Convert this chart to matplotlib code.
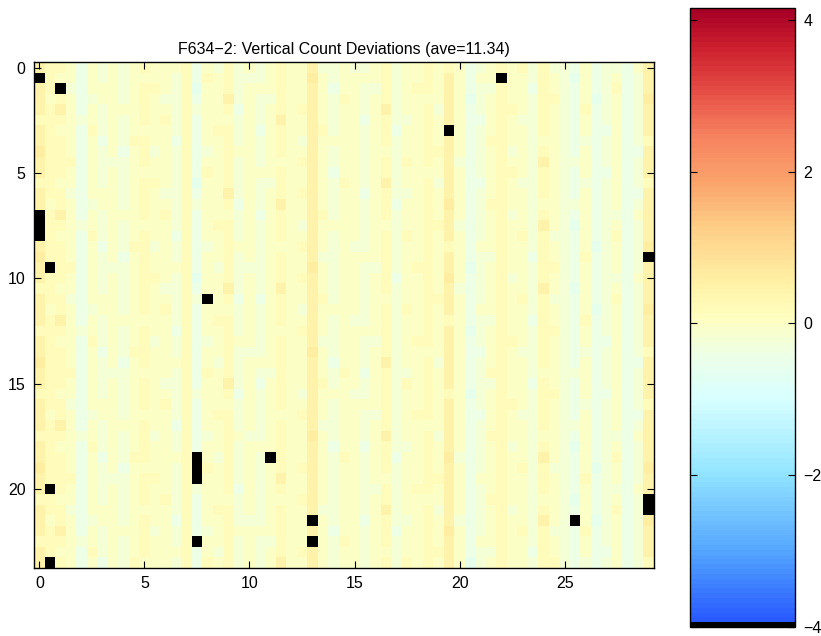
#!/usr/bin/env python3
"""F634-2 vertical count deviations heatmap."""
import numpy as np
import matplotlib
matplotlib.use("Agg")
import matplotlib.pyplot as plt
from matplotlib.colors import LinearSegmentedColormap, ListedColormap, Normalize

plt.rcParams["font.family"] = ["Liberation Sans", "DejaVu Sans"]

title = "F634\u22122: Vertical Count Deviations (ave=11.34)"

# cell centres
x_vals = np.arange(0, 29.01, 0.5)     # 59 columns
y_vals = np.arange(0, 23.51, 0.5)     # 48 rows

# deviation levels per cell (digit d -> (d-6)*0.2)
rows = [
    "8776465656 7666746575 6567668556 5567566767 6456767575 546455468",
    "7766465656 6665747675 5567669656 6667566768 6466766576 536456458",
    "8775466656 7765736675 6667668646 6557567768 6455766476 546457458",
    "8676456656 7655746685 6557668657 6567566668 6356766577 546356459",
    "8786465666 7665756674 6567678656 6568566758 6456776576 547456458",
    "7776565656 7675746665 6568668656 6467556768 6446765576 546456458",
    "8766475656 6665746775 6467668756 6567466769 6456766576 546446458",
    "8776464657 7664746675 6567658666 6567566768 6457766566 545456457",
    "9776465646 7565745676 6567668656 6566566778 6456756576 546456448",
    "8777465556 7665746675 6566678656 6567576768 5456766586 556456458",
    "8776465656 6665747675 6667668646 6567566668 6456776576 546446458",
    "7766465656 7765736675 6557668657 6568566758 6446765576 545456457",
    "8775466656 7655746685 6567678656 6467556768 6456766576 546456448",
    "8676456656 7665756674 6568668656 6567466769 6457766566 556456458",
    "8786465666 7675746665 6467668756 6567566768 6456756576 546455468",
    "7776565656 6665746775 6567658666 6566566778 5456766586 536456458",
    "8766475656 7664746675 6567668656 6567576768 6456767575 546457458",
    "8776464657 7565745676 6566678656 5567566767 6466766576 546356459",
    "9776465646 7665746675 6567668556 6667566768 6455766476 547456458",
    "8777465556 7666746575 5567669656 6557567768 6356766577 546456458",
    "8776465656 7765736675 6567678656 6567466769 6456756576 546455468",
    "7766465656 7655746685 6568668656 6567566768 5456766586 536456458",
    "8775466656 7665756674 6467668756 6566566778 6456767575 546457458",
    "8676456656 7675746665 6567658666 6567576768 6466766576 546356459",
    "8786465666 6665746775 6567668656 5567566767 6455766476 547456458",
    "7776565656 7664746675 6566678656 6667566768 6356766577 546456458",
    "8766475656 7565745676 6567668556 6557567768 6456776576 546446458",
    "8776464657 7665746675 5567669656 6567566668 6446765576 545456457",
    "9776465646 7666746575 6667668646 6568566758 6456766576 546456448",
    "8777465556 6665747675 6557668657 6467556768 6457766566 556456458",
    "8776465656 7655746685 6467668756 6567576768 6455766476 546456458",
    "7766465656 7665756674 6567658666 5567566767 6356766577 546446458",
    "8775466656 7675746665 6567668656 6667566768 6456776576 545456457",
    "8676456656 6665746775 6566678656 6557567768 6446765576 546456448",
    "8786465666 7664746675 6567668556 6567566668 6456766576 556456458",
    "7776565656 7565745676 5567669656 6568566758 6457766566 546455468",
    "8766475656 7665746675 6667668646 6467556768 6456756576 536456458",
    "8776464657 7666746575 6557668657 6567466769 5456766586 546457458",
    "9776465646 6665747675 6567678656 6567566768 6456767575 546356459",
    "8777465556 7765736675 6568668656 6566566778 6466766576 547456458",
    "8776465656 7665756674 6567668656 6557567768 6456766576 546455468",
    "7766465656 7675746665 6566678656 6567566668 6457766566 536456458",
    "8775466656 6665746775 6567668556 6568566758 6456756576 546457458",
    "8676456656 7664746675 5567669656 6467556768 5456766586 546356459",
    "8786465666 7565745676 6667668646 6567466769 6456767575 547456458",
    "7776565656 7665746675 6557668657 6567566768 6466766576 546456458",
    "8766475656 7666746575 6567678656 6566566778 6455766476 546446458",
    "8776464657 6665747675 6568668656 6567576768 6356766577 545456457",
]

# dead cells (no counts) -> drawn black
dead_x = [0, 1, 22, 19.5, 0, 0, 0, 0.5, 29, 8, 7.5, 7.5, 7.5, 11,
          7.5, 0.5, 0.5, 13, 13, 25.5, 29, 29]
dead_y = [0.5, 1, 0.5, 3, 7, 7.5, 8, 9.5, 9, 11, 18.5, 19, 19.5, 18.5,
          22.5, 20, 23.5, 21.5, 22.5, 21.5, 20.5, 21]

data = np.array([[(int(c) - 6) * 0.2 for c in r.replace(" ", "")] for r in rows])
for xd, yd in zip(dead_x, dead_y):
    data[np.argmin(abs(y_vals - yd)), np.argmin(abs(x_vals - xd))] = np.nan

# colormap: blue -> cyan -> pale yellow -> orange -> dark red, first entry black
anchors = [
    (0.00, (0.15, 0.33, 1.00)),
    (0.12, (0.33, 0.65, 1.00)),
    (0.25, (0.58, 0.90, 1.00)),
    (0.37, (0.85, 1.00, 1.00)),
    (0.44, (0.93, 1.00, 0.90)),
    (0.50, (1.00, 1.00, 0.75)),
    (0.57, (1.00, 0.93, 0.63)),
    (0.65, (0.99, 0.80, 0.52)),
    (0.72, (0.98, 0.64, 0.42)),
    (0.80, (0.96, 0.50, 0.37)),
    (0.87, (0.90, 0.30, 0.27)),
    (0.94, (0.80, 0.12, 0.18)),
    (1.00, (0.65, 0.00, 0.15)),
]
base = LinearSegmentedColormap.from_list("dev", anchors, N=128)
cols = base(np.linspace(0, 1, 128))
cols[0] = (0, 0, 0, 1)
cmap = ListedColormap(cols)
cmap.set_bad("black")
norm = Normalize(vmin=-4, vmax=4.15)

fig = plt.figure(figsize=(8.21, 6.36), dpi=100)
ax = fig.add_axes([0.0415, 0.107, 0.755, 0.795])
dx = (x_vals[1] - x_vals[0]) / 2
dy = (y_vals[1] - y_vals[0]) / 2
im = ax.imshow(data, cmap=cmap, norm=norm, aspect="auto", interpolation="nearest",
               extent=(x_vals[0] - dx, x_vals[-1] + dx, y_vals[-1] + dy, y_vals[0] - dy))
ax.set_xticks([0, 5, 10, 15, 20, 25])
ax.set_yticks([0, 5, 10, 15, 20])
ax.tick_params(direction="in", top=True, right=True, length=5, labelsize=11.5, pad=6)
for s in ax.spines.values():
    s.set_linewidth(1.0)
ax.set_title(title, fontsize=11.5, pad=6)

cax = fig.add_axes([0.8405, 0.014, 0.128, 0.973])
cb = fig.colorbar(im, cax=cax)
cb.set_ticks([-4, -2, 0, 2, 4])
cb.ax.tick_params(direction="in", left=True, right=True, length=5, labelsize=11.5, pad=6)
cb.outline.set_linewidth(1.0)

fig.savefig("out.png", dpi=100)
